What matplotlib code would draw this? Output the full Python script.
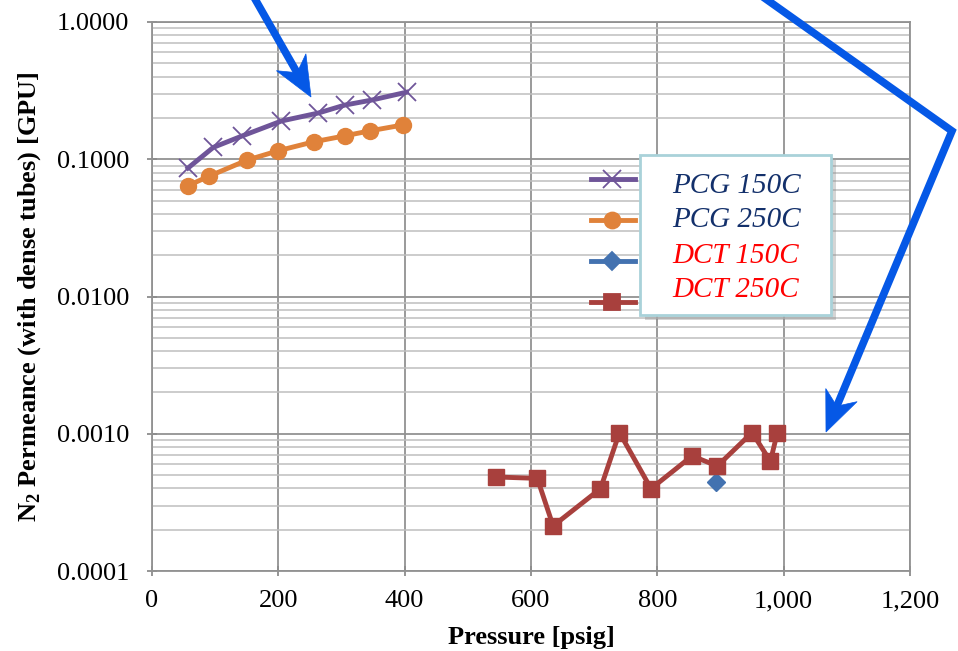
import matplotlib
matplotlib.use("Agg")
import matplotlib.pyplot as plt
import numpy as np
from matplotlib.lines import Line2D
from matplotlib.patches import Rectangle, Polygon
from matplotlib.ticker import FixedLocator, FuncFormatter, LogLocator, NullFormatter

# ---------------- data ----------------
pcg150_x = [57, 97, 143, 205, 263, 305, 348, 403]
pcg150_y = [0.0863, 0.122, 0.148, 0.190, 0.217, 0.248, 0.270, 0.308]

pcg250_x = [57, 91, 151, 200, 256, 305, 345, 398]
pcg250_y = [0.0642, 0.0755, 0.0987, 0.1154, 0.134, 0.148, 0.161, 0.178]

dct150_x = [893]
dct150_y = [0.000448]

dct250_x = [545, 610, 635, 710, 740, 790, 855, 895, 950, 979, 990]
dct250_y = [0.000484, 0.000473, 0.000213, 0.000398, 0.00102, 0.000398,
            0.000689, 0.000582, 0.00102, 0.000630, 0.00102]

series_labels = ["PCG 150C", "PCG 250C", "DCT 150C", "DCT 250C"]
label_colors = ["#13306B", "#13306B", "#FF0000", "#FF0000"]

x_ticks = [0, 200, 400, 600, 800, 1000, 1200]
y_ticks = [0.0001, 0.001, 0.01, 0.1, 1.0]

# ---------------- style ----------------
W, H = 958, 651
DPI = 100
plt.rcParams['font.family'] = ['Liberation Serif', 'DejaVu Serif']
plt.rcParams['mathtext.fontset'] = 'custom'
plt.rcParams['mathtext.rm'] = 'Liberation Serif'
plt.rcParams['mathtext.bf'] = 'Liberation Serif:bold'
fig = plt.figure(figsize=(W / DPI, H / DPI), dpi=DPI)

def fx(px):
    return px / W

def fy(py):
    return 1 - py / H

ax = fig.add_axes([fx(152), fy(571), fx(910) - fx(152), fy(22) - fy(571)])
ax.set_yscale('log')
ax.set_xlim(0, 1200)
ax.set_ylim(0.0001, 1.0)

ax.xaxis.set_major_locator(FixedLocator(x_ticks))
ax.xaxis.set_major_formatter(FuncFormatter(lambda v, p: f"{int(v):,}"))
ax.yaxis.set_major_locator(FixedLocator(y_ticks))
ax.yaxis.set_major_formatter(FuncFormatter(lambda v, p: f"{v:.4f}"))
ax.yaxis.set_minor_locator(LogLocator(base=10, subs=np.arange(2, 10)))
ax.yaxis.set_minor_formatter(NullFormatter())

ax.grid(True, which='major', axis='both', color='#929292', linewidth=1.3)
ax.grid(True, which='minor', axis='y', color='#BEBEBE', linewidth=1.1)
ax.set_axisbelow(True)
ax.tick_params(which='major', direction='inout', length=7.5, width=1.3,
               color='#8C8C8C', labelsize=19)
ax.tick_params(axis='y', which='major', pad=12.5)
ax.tick_params(axis='x', which='major', pad=10)
ax.tick_params(which='minor', length=0)
for s in ['left', 'bottom', 'right', 'top']:
    ax.spines[s].set_color('#929292')
    ax.spines[s].set_linewidth(1.3)

c_purple = '#6F5599'
c_orange = '#E0823A'
c_blue = '#4372B0'
c_red = '#A8403D'

ax.plot(pcg150_x, pcg150_y, color=c_purple, lw=3.5, marker='x', ms=12.5,
        mew=1.3, zorder=3, clip_on=False)
ax.plot(pcg250_x, pcg250_y, color=c_orange, lw=3.5, marker='o', ms=11.5,
        zorder=3, clip_on=False)
ax.plot(dct150_x, dct150_y, color=c_blue, lw=3.5, marker='D', ms=9,
        zorder=3, clip_on=False)
ax.plot(dct250_x, dct250_y, color=c_red, lw=3.5, marker='s', ms=11.5,
        zorder=3, clip_on=False)

ax.set_xlabel("Pressure [psig]", fontsize=19, fontweight='bold', labelpad=10)
ax.set_ylabel(r"N$_\mathbf{2}$ Permeance (with dense tubes) [GPU]",
              fontsize=19, fontweight='bold', labelpad=10)

# ---------------- legend (manual, Excel-like offset) ----------------
bx0, by0, bx1, by1 = 640, 155, 831, 315
shadow = Rectangle((fx(bx0 + 5), fy(by1 + 5)), fx(bx1 - bx0), fy(by0) - fy(by1),
                   transform=fig.transFigure, facecolor='#888888', alpha=0.35,
                   edgecolor='none', zorder=8)
fig.patches.append(shadow)
box = Rectangle((fx(bx0), fy(by1)), fx(bx1 - bx0), fy(by0) - fy(by1),
                transform=fig.transFigure, facecolor='white',
                edgecolor='#A9D2D9', linewidth=2, zorder=9)
fig.patches.append(box)

handle_rows = [179, 220, 261, 302]
handle_styles = [(c_purple, 'x', 12.5), (c_orange, 'o', 11.5), (c_blue, 'D', 9), (c_red, 's', 11.5)]
for ry, (c, m, ms) in zip(handle_rows, handle_styles):
    ln = Line2D([fx(591), fx(635)], [fy(ry), fy(ry)], transform=fig.transFigure,
                color=c, lw=3.5, zorder=10)
    fig.lines.append(ln)
    mk = Line2D([fx(612)], [fy(ry)], transform=fig.transFigure, color=c,
                marker=m, ms=ms, mew=1.3, lw=0, zorder=10)
    fig.lines.append(mk)

text_rows = [193, 227, 263, 297]
for ty, lab, col in zip(text_rows, series_labels, label_colors):
    fig.text(fx(672), fy(ty), lab, color=col, fontsize=21, fontstyle='italic',
             va='baseline', ha='left', zorder=11)

# ---------------- blue annotation arrows ----------------
arrow_c = '#0558E6'

def arrow_head(start, tip, L=40, Wd=34, notch=12):
    s = np.array(start, float)
    t = np.array(tip, float)
    d = (t - s) / np.linalg.norm(t - s)
    n = np.array([-d[1], d[0]])
    pts = [t, t - L * d + Wd / 2 * n, t - (L - notch) * d, t - L * d - Wd / 2 * n]
    base = t - (L - notch) * d
    return pts, base

def draw_polyline(pts_px):
    xs = [fx(p[0]) for p in pts_px]
    ys = [fy(p[1]) for p in pts_px]
    fig.lines.append(Line2D(xs, ys, transform=fig.transFigure, color=arrow_c,
                            lw=5.5, solid_joinstyle='miter', zorder=12))

def draw_head(pts_px):
    poly = Polygon([(fx(p[0]), fy(p[1])) for p in pts_px], closed=True,
                   transform=fig.transFigure, facecolor=arrow_c, edgecolor=arrow_c,
                   lw=0.5, zorder=13)
    fig.patches.append(poly)

# arrow 1
s1, t1 = (251, -8), (311, 97)
hp, base = arrow_head(s1, t1)
draw_polyline([s1, base])
draw_head(hp)

# arrow 2
p0, p1, t2 = (756, -8), (952, 131), (826, 432)
hp, base = arrow_head(p1, t2)
draw_polyline([p0, p1, base])
draw_head(hp)

fig.savefig("out.png", dpi=DPI)
